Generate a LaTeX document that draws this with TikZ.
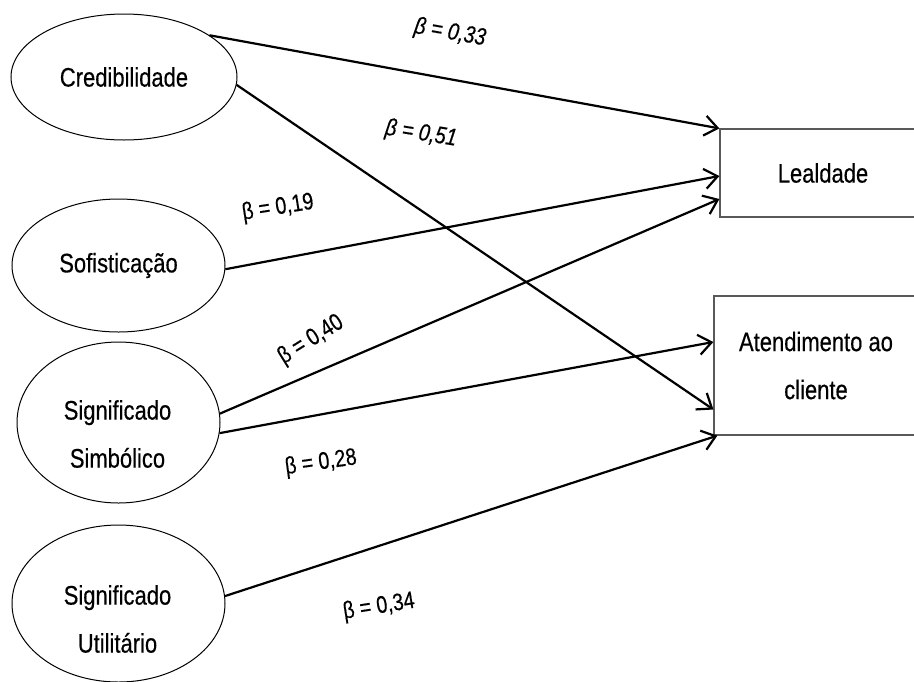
\documentclass[tikz,border=0pt]{standalone}
\usepackage{fontspec}
\setmainfont[FakeStretch=0.82,FakeBold=0.4]{Liberation Sans}
\usetikzlibrary{shapes.geometric}
\usetikzlibrary{arrows.meta}

\tikzset{
  latent/.style={ellipse, draw, line width=0.5pt, inner sep=0pt,
    font=\fontsize{13.4}{16}\selectfont},
  latenttext/.style={align=center, inner sep=0pt,
    font=\fontsize{13.4}{16}\selectfont},
  observed/.style={rectangle, draw=black!65, line width=0.6pt, align=center,
    font=\fontsize{13.4}{16}\selectfont},
  path/.style={line width=1.1pt, -{Straight Barb[length=6.5pt,width=10pt]}},
  coef/.style={font=\fontsize{12}{14}\selectfont, inner sep=0pt}
}

\begin{document}
\begin{tikzpicture}[x=0.5pt, y=-0.5pt]
  \useasboundingbox (0,0) rectangle (914,681);

  % constructos
  \node[latent, minimum width=113pt, minimum height=63pt] (cred) at (124,77) {Credibilidade};
  \node[latent, minimum width=106.5pt, minimum height=66.5pt] (sof) at (118.5,265.5) {Sofisticação};
  \node[latent, minimum width=101.5pt, minimum height=80.5pt] (simb) at (118.5,422.5) {};
  \node[latenttext] (simbtxt) at (117.5,434) {Significado\\[8pt]Simbólico};
  \node[latent, minimum width=106.5pt, minimum height=78.5pt] (util) at (118.5,603.5) {};
  \node[latenttext] (utiltxt) at (117.5,619) {Significado\\[8pt]Utilitário};

  \node[observed, minimum width=103pt, minimum height=44pt] (leal) at (823,173) {Lealdade};
  \node[observed, minimum width=102pt, minimum height=69.5pt] (aten) at (816,365.5) {Atendimento ao\\[8pt]cliente};

  % caminhos
  \draw[path] (cred.26) -- (leal.north west);
  \draw[path] (cred.-4) -- ([yshift=-22pt]aten.west);
  \draw[path] (sof.-2) -- ([yshift=-1.5pt]leal.west);
  \draw[path] (simb.5) -- ([yshift=-13pt]leal.west);
  \draw[path] (simb.-6) -- ([yshift=11.75pt]aten.west);
  \draw[path] (util.4) -- ([xshift=2pt]aten.south west);

  % coeficientes
  \node[coef, rotate=-10] (b1) at (450,33) {\itshape β = 0,33};
  \node[coef, rotate=-9] (b2) at (421,134) {\itshape β = 0,51};
  \node[coef, rotate=9] (b3) at (278,208) {β = 0,19};
  \node[coef, rotate=32] (b4) at (311,340) {β = 0,40};
  \node[coef, rotate=8] (b5) at (321,463) {β = 0,28};
  \node[coef, rotate=9] (b6) at (379,607) {β = 0,34};
\end{tikzpicture}
\end{document}
